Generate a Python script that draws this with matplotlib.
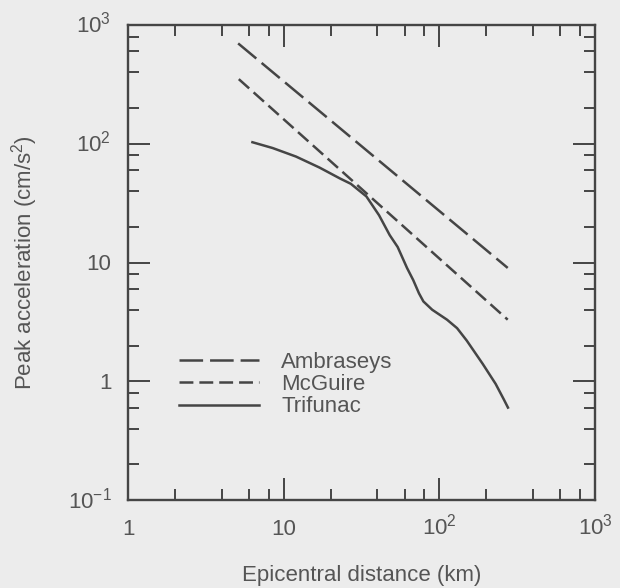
import numpy as np
import matplotlib as mpl
mpl.use('Agg')
import matplotlib.pyplot as plt
import matplotlib.transforms as mtrans
from matplotlib.ticker import FixedLocator, FixedFormatter, NullFormatter

mpl.rcParams['font.family'] = ['Liberation Sans', 'DejaVu Sans']
mpl.rcParams['mathtext.fontset'] = 'custom'
mpl.rcParams['mathtext.rm'] = 'Liberation Sans'
mpl.rcParams['lines.scale_dashes'] = False

bg = '#ececec'
ink = '#454545'
txt = '#555555'

# (km, cm/s^2)
amb_x = [5.1, 275]
amb_y = [700, 9.0]
mcg_x = [5.15, 275]
mcg_y = [350, 3.3]
tri_x = [6.3, 8.5, 12, 17, 23, 27, 34, 41, 48, 54, 62, 68, 74, 79, 90, 112, 130, 150, 190, 230, 260, 276]
tri_y = [103, 92, 78, 63, 51, 46, 36, 25, 17, 13.5, 9, 7.1, 5.5, 4.7, 4.0, 3.3, 2.8, 2.2, 1.4, 0.95, 0.7, 0.6]

xticks = [1, 10, 100, 1000]
xlabels = ['1', '10', r'$\mathregular{10^2}$', r'$\mathregular{10^3}$']
yticks = [0.1, 1, 10, 100, 1000]
ylabels = [r'$\mathregular{10^{-1}}$', '1', '10', r'$\mathregular{10^2}$', r'$\mathregular{10^3}$']
minor = [m * 10.0**e for e in range(-1, 3) for m in (2, 4, 6, 8)]

fig = plt.figure(figsize=(6.2, 5.88), dpi=100, facecolor=bg)
ax = fig.add_axes([128/620, 1 - 500/588, 467/620, 475/588], facecolor=bg)

ax.plot(amb_x, amb_y, color=ink, lw=1.8, dashes=(17, 5), label='Ambraseys')
ax.plot(mcg_x, mcg_y, color=ink, lw=1.8, dashes=(10, 4.3), label='McGuire')
ax.plot(tri_x, tri_y, color=ink, lw=1.8, label='Trifunac')

ax.set_xscale('log')
ax.set_yscale('log')
ax.set_xlim(1, 1000)
ax.set_ylim(0.1, 1000)

ax.xaxis.set_major_locator(FixedLocator(xticks))
ax.xaxis.set_major_formatter(FixedFormatter(xlabels))
ax.yaxis.set_major_locator(FixedLocator(yticks))
ax.yaxis.set_major_formatter(FixedFormatter(ylabels))
ax.xaxis.set_minor_locator(FixedLocator([m for m in minor if m > 1]))
ax.yaxis.set_minor_locator(FixedLocator(minor))
ax.xaxis.set_minor_formatter(NullFormatter())
ax.yaxis.set_minor_formatter(NullFormatter())

ax.tick_params(which='both', direction='in', top=True, right=True, color=ink,
               labelcolor=txt, labelsize=16, width=1.4)
ax.tick_params(which='major', length=16)
ax.tick_params(which='minor', length=8)
ax.tick_params(axis='x', which='major', pad=25)
ax.tick_params(axis='y', which='major', pad=12)
for s in ax.spines.values():
    s.set_color(ink)
    s.set_linewidth(1.7)

# keep the digits of 10 and 10^2 on one baseline
down = mtrans.ScaledTranslation(0, -0.08, fig.dpi_scale_trans)
for lab in ax.get_xticklabels():
    lab.set_va('baseline')
for lab in ax.get_yticklabels():
    lab.set_va('baseline')
    lab.set_transform(lab.get_transform() + down)

ax.set_xlabel('Epicentral distance (km)', fontsize=16, color=txt, labelpad=18)
ax.set_ylabel(r'Peak acceleration (cm/s$\mathregular{^2}$)', fontsize=16, color=txt, labelpad=20)

leg = ax.legend(loc='upper left', bbox_to_anchor=(0.09, 0.33), frameon=False,
                fontsize=16, handlelength=3.6, handletextpad=1.0, labelspacing=0.05,
                borderaxespad=0)
for t in leg.get_texts():
    t.set_color(txt)

fig.savefig('out.png', dpi=100, facecolor=bg)
